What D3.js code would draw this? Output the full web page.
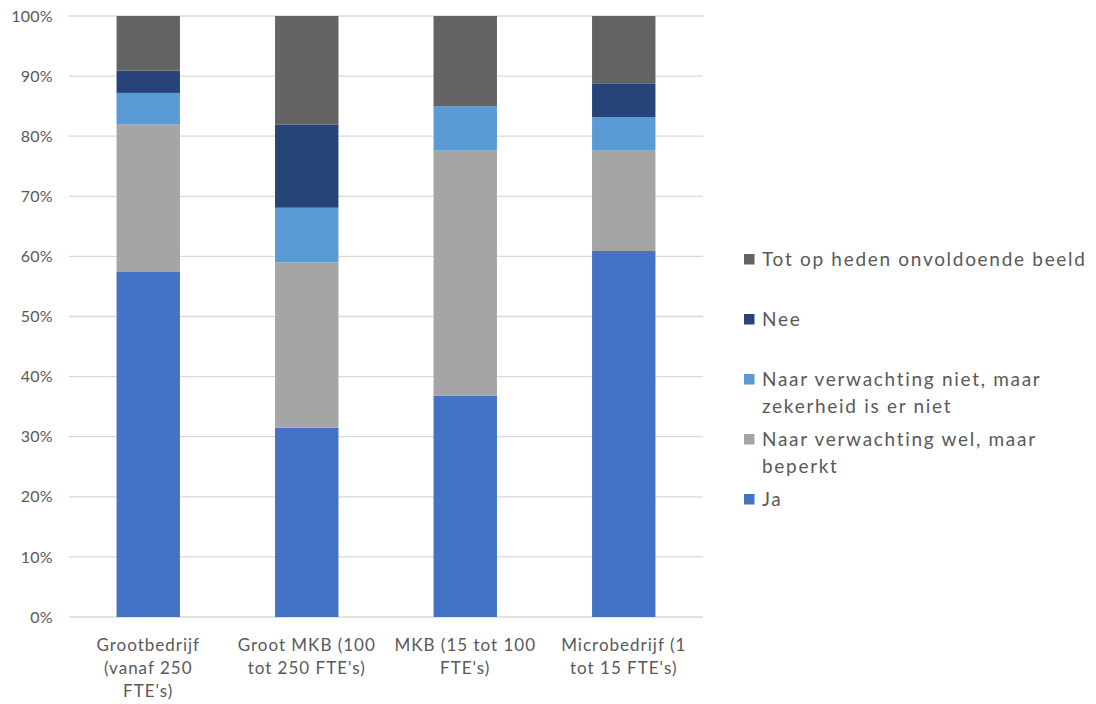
<!DOCTYPE html>
<html>
<head>
<meta charset="utf-8">
<script src="https://cdn.jsdelivr.net/npm/d3@7"></script>
<style>
  html, body { margin: 0; padding: 0; background: #fff; }
  svg { display: block; }
  text { font-family: Lato, "Open Sans", sans-serif; fill: #595959; }
</style>
</head>
<body>
<svg id="chart" width="1096" height="704"></svg>
<script>
// ---- data ----
const categories = ["Grootbedrijf (vanaf 250 FTE's)", "Groot MKB (100 tot 250 FTE's)", "MKB (15 tot 100 FTE's)", "Microbedrijf (1 tot 15 FTE's)"];
const categoryLines = [
  ["Grootbedrijf", "(vanaf 250", "FTE's)"],
  ["Groot MKB (100", "tot 250 FTE's)"],
  ["MKB (15 tot 100", "FTE's)"],
  ["Microbedrijf (1", "tot 15 FTE's)"]
];
const seriesNames = ["Ja", "Naar verwachting wel, maar beperkt", "Naar verwachting niet, maar zekerheid is er niet", "Nee", "Tot op heden onvoldoende beeld"];
const seriesLegendLines = [
  ["Ja"],
  ["Naar verwachting wel, maar", "beperkt"],
  ["Naar verwachting niet, maar", "zekerheid is er niet"],
  ["Nee"],
  ["Tot op heden onvoldoende beeld"]
];
const ja          = [57.4, 31.5, 36.8, 60.9];
const welBeperkt  = [24.6, 27.5, 40.8, 16.7];
const nietOnzeker = [5.2, 9.1, 7.4, 5.6];
const nee         = [3.7, 13.8, 0.0, 5.6];
const onvoldoende = [9.1, 18.1, 15.0, 11.2];
const seriesColors = ["#4472C4", "#A5A5A5", "#5B9BD5", "#264478", "#636363"];
const yTicks = [0, 10, 20, 30, 40, 50, 60, 70, 80, 90, 100];

const seriesValues = [ja, welBeperkt, nietOnzeker, nee, onvoldoende];
const table = categories.map((c, i) => {
  const row = { cat: c };
  seriesNames.forEach((s, k) => row[s] = seriesValues[k][i]);
  return row;
});

// ---- layout ----
const svg = d3.select("#chart");
const plot = { left: 69, right: 703, top: 16, bottom: 617 };

const x = d3.scaleBand().domain(categories).range([plot.left, plot.right]).paddingInner(0.6).paddingOuter(0.3);
const y = d3.scaleLinear().domain([0, 100]).range([plot.bottom, plot.top]);

// gridlines
svg.append("g").selectAll("line").data(yTicks).join("line")
  .attr("x1", plot.left).attr("x2", plot.right)
  .attr("y1", d => y(d)).attr("y2", d => y(d))
  .attr("stroke", "#D9D9D9").attr("stroke-width", 1.3);

// y axis labels
const yAxis = d3.axisLeft(y).tickValues(yTicks).tickFormat(d => d + "%").tickSize(0).tickPadding(0);
const yg = svg.append("g").attr("transform", `translate(${plot.left - 16},0)`).call(yAxis);
yg.select(".domain").remove();
yg.selectAll("text").style("font-size", "16px").style("fill", "#595959")
  .style("font-family", "Lato, 'Open Sans', sans-serif").style("letter-spacing", "0.3px");

// stacked bars
const stack = d3.stack().keys(seriesNames);
const stacked = stack(table);
svg.append("g").selectAll("g").data(stacked).join("g")
  .attr("fill", (d, i) => seriesColors[i])
  .selectAll("rect").data(d => d).join("rect")
  .attr("x", d => x(d.data.cat))
  .attr("width", x.bandwidth())
  .attr("y", d => y(d[1]))
  .attr("height", d => Math.max(0, y(d[0]) - y(d[1])));

// x axis labels
const xg = svg.append("g");
categories.forEach((c, i) => {
  const cx = x(c) + x.bandwidth() / 2;
  const t = xg.append("text")
    .attr("x", cx)
    .attr("y", 651)
    .attr("text-anchor", "middle")
    .style("font-size", "17px")
    .style("letter-spacing", "1px");
  categoryLines[i].forEach((line, j) => {
    t.append("tspan").attr("x", cx).attr("dy", j === 0 ? 0 : 23).text(line);
  });
});

// legend (top to bottom: reversed series order)
const legendOrder = d3.range(seriesNames.length).reverse();
const legY = d3.scalePoint().domain(legendOrder).range([259, 499]);
const lg = svg.append("g");
legendOrder.forEach(k => {
  const cy = legY(k);
  lg.append("rect").attr("x", 744).attr("y", cy - 5).attr("width", 10.5).attr("height", 10.5).attr("fill", seriesColors[k]);
  const t = lg.append("text").attr("x", 762).attr("y", cy + 7)
    .style("font-size", "19px").style("letter-spacing", "1.7px");
  seriesLegendLines[k].forEach((line, j) => {
    t.append("tspan").attr("x", 762).attr("dy", j === 0 ? 0 : 27).text(line);
  });
});
</script>
</body>
</html>
